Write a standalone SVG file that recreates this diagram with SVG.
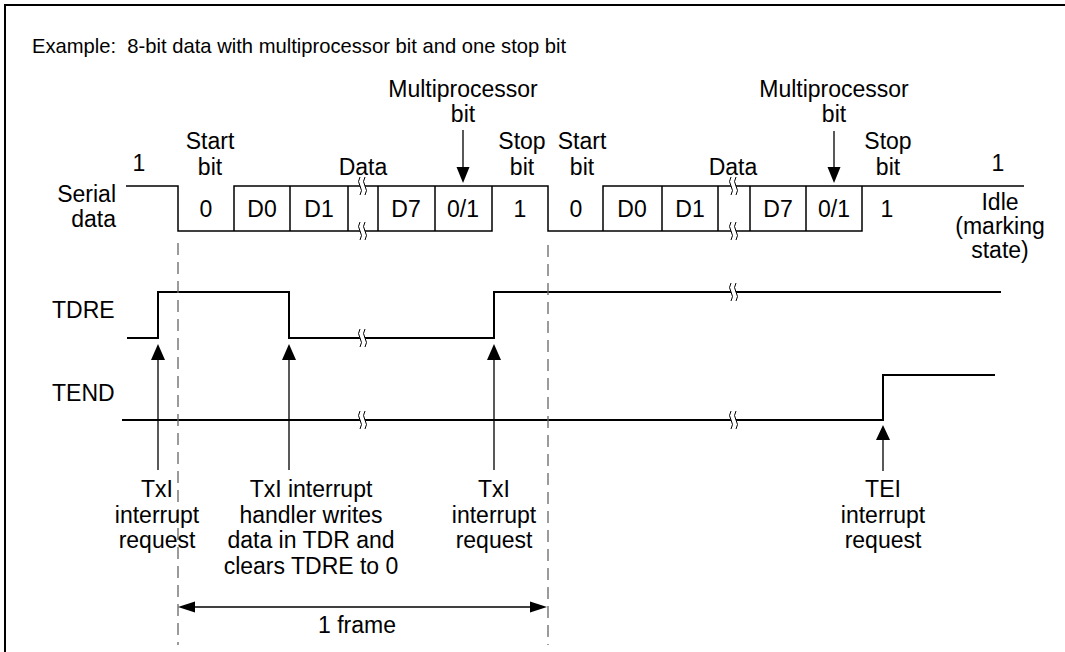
<svg xmlns="http://www.w3.org/2000/svg" width="1065" height="652" viewBox="0 0 1065 652">
<style>
text{font-family:"Liberation Sans",Arial,sans-serif;font-size:23px;fill:#000}
.hd{font-size:20.2px}
.c{text-anchor:middle}
.r{text-anchor:end}
.sig{fill:none;stroke:#000;stroke-width:1.5}
.sig2{fill:none;stroke:#000;stroke-width:2}
.ln{fill:none;stroke:#000;stroke-width:1.3}
.dash{fill:none;stroke:#666;stroke-width:1.3;stroke-dasharray:12 7}
.ah{fill:#000;stroke:none}
.brk{fill:#fff;stroke:none}
.brks{fill:none;stroke:#000;stroke-width:1}
</style>
<defs>
<g id="brk">
<path class="brk" d="M-5,-9 q-3,4.5 0,9 q3,4.5 0,9 h5 q3,-4.5 0,-9 q-3,-4.5 0,-9 z"/>
<path class="brks" d="M-5,-9 q-3,4.5 0,9 q3,4.5 0,9 M0,-9 q-3,4.5 0,9 q3,4.5 0,9"/>
</g>
</defs>
<path d="M5,660 V5 H1070" fill="none" stroke="#000" stroke-width="2"/>
<text class="hd" x="32" y="53" xml:space="preserve">Example:  8-bit data with multiprocessor bit and one stop bit</text>

<g id="serial-data">
<text class="r" x="116" y="202">Serial</text>
<text class="r" x="116" y="227">data</text>
<path class="sig" d="M126,186 H178 V231 H492 V186"/>
<path class="sig" d="M234,231 V186 H548 V231 H862 V186"/>
<path class="sig" d="M603,231 V186 H1024"/>
<path class="sig" d="M290,186 V231 M348,186 V231 M378,186 V231 M435,186 V231"/>
<path class="sig" d="M662,186 V231 M718,186 V231 M750,186 V231 M806,186 V231"/>
<use href="#brk" x="365" y="186"/>
<use href="#brk" x="365" y="231"/>
<use href="#brk" x="736" y="186"/>
<use href="#brk" x="736" y="231"/>
<text class="c" x="206" y="217">0</text>
<text class="c" x="262" y="217">D0</text>
<text class="c" x="319" y="217">D1</text>
<text class="c" x="406" y="217">D7</text>
<text class="c" x="463" y="217">0/1</text>
<text class="c" x="520" y="217">1</text>
<text class="c" x="576" y="217">0</text>
<text class="c" x="632" y="217">D0</text>
<text class="c" x="690" y="217">D1</text>
<text class="c" x="778" y="217">D7</text>
<text class="c" x="834" y="217">0/1</text>
<text class="c" x="887" y="217">1</text>
</g>

<g id="serial-labels">
<text class="c" x="139" y="171">1</text>
<text class="c" x="210" y="149">Start</text>
<text class="c" x="210" y="175">bit</text>
<text class="c" x="363" y="175">Data</text>
<text class="c" x="463" y="97">Multiprocessor</text>
<text class="c" x="463" y="122">bit</text>
<text class="c" x="522" y="149">Stop</text>
<text class="c" x="522" y="175">bit</text>
<text class="c" x="582" y="149">Start</text>
<text class="c" x="582" y="175">bit</text>
<text class="c" x="733" y="175">Data</text>
<text class="c" x="834" y="97">Multiprocessor</text>
<text class="c" x="834" y="122">bit</text>
<text class="c" x="888" y="149">Stop</text>
<text class="c" x="888" y="175">bit</text>
<text class="c" x="998" y="171">1</text>
<text class="c" x="1000" y="210">Idle</text>
<text class="c" x="1000" y="234">(marking</text>
<text class="c" x="1000" y="258">state)</text>
</g>

<g id="tdre">
<text x="52" y="318">TDRE</text>
<path class="sig2" d="M127,338 H158 V292 H289 V338 H494 V292 H1001"/>
<use href="#brk" x="365" y="338"/>
<use href="#brk" x="736" y="292"/>
</g>

<g id="tend">
<text x="52" y="401">TEND</text>
<path class="sig2" d="M122,420 H883 V375 H995"/>
<use href="#brk" x="365" y="420"/>
<use href="#brk" x="736" y="420"/>
</g>

<g id="connectors">
<path class="dash" d="M178,243 V645 M548,245 V645"/>
<path class="ln" d="M463,130 V170 M834,131 V170"/>
<polygon class="ah" points="456.5,167 469.5,167 463,183"/>
<polygon class="ah" points="827.5,167 840.5,167 834,183"/>
<path class="ln" d="M158,358 V470 M289,358 V470 M494,358 V470 M883,438 V471"/>
<polygon class="ah" points="151,360 165,360 158,344"/>
<polygon class="ah" points="282,360 296,360 289,344"/>
<polygon class="ah" points="487,360 501,360 494,344"/>
<polygon class="ah" points="876,440 890,440 883,425"/>
<path class="ln" d="M192,607 H533"/>
<polygon class="ah" points="178,607 195,601.5 195,612.5"/>
<polygon class="ah" points="547,607 530,601.5 530,612.5"/>
</g>

<g id="notes">
<text class="c" x="157" y="497">TxI</text>
<text class="c" x="157" y="523">interrupt</text>
<text class="c" x="157" y="548">request</text>
<text class="c" x="311" y="497">TxI interrupt</text>
<text class="c" x="311" y="523">handler writes</text>
<text class="c" x="311" y="548">data in TDR and</text>
<text class="c" x="311" y="574">clears TDRE to 0</text>
<text class="c" x="494" y="497">TxI</text>
<text class="c" x="494" y="523">interrupt</text>
<text class="c" x="494" y="548">request</text>
<text class="c" x="883" y="497">TEI</text>
<text class="c" x="883" y="523">interrupt</text>
<text class="c" x="883" y="548">request</text>
<text class="c" x="357" y="633">1 frame</text>
</g>
</svg>
